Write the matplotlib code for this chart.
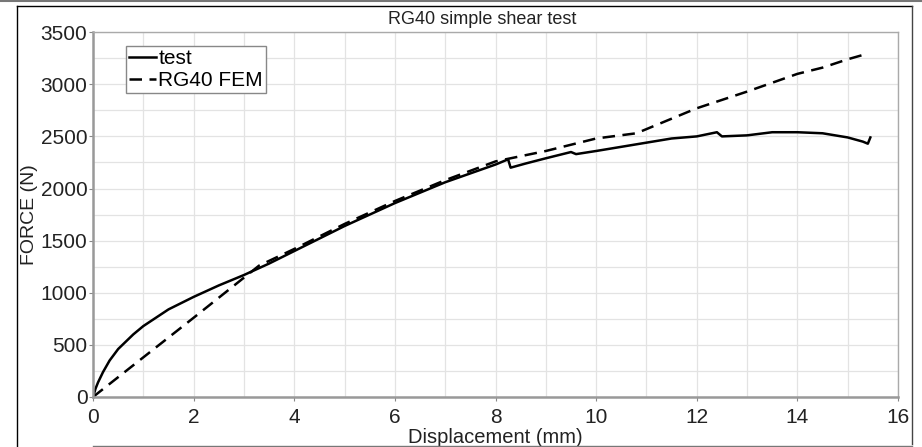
import matplotlib
matplotlib.use("Agg")
from matplotlib import pyplot as plt
from matplotlib.lines import Line2D
from matplotlib.ticker import MultipleLocator

plt.rcParams['font.family'] = ['Liberation Sans', 'DejaVu Sans']

test_x = [0, 0.05, 0.1, 0.2, 0.33, 0.5, 0.8, 1.0, 1.5, 2.0, 2.5, 3.0, 3.5, 4.0, 5.0, 6.0, 7.0, 8.0,
          8.25, 8.3, 8.6, 9.0, 9.5, 9.6, 10.0, 10.5, 11.0, 11.5, 12.0, 12.4, 12.5,
          13.0, 13.5, 14.0, 14.5, 15.0, 15.3, 15.4, 15.45]
test_y = [0, 80, 140, 240, 350, 460, 600, 680, 840, 960, 1070, 1170, 1280, 1400, 1640, 1860, 2060, 2230,
          2280, 2200, 2240, 2290, 2350, 2330, 2360, 2400, 2440, 2480, 2500, 2540, 2500,
          2510, 2540, 2540, 2530, 2490, 2450, 2430, 2490]

fem_x = [0, 1.0, 2.0, 3.3, 4.0, 5.0, 6.0, 7.0, 8.0, 9.0, 9.5, 10.0, 10.8, 11.0,
         12.0, 13.0, 14.0, 14.5, 15.0, 15.4]
fem_y = [0, 380, 760, 1260, 1420, 1660, 1880, 2080, 2260, 2360, 2420, 2480, 2530, 2570,
         2770, 2930, 3100, 3160, 3240, 3295]

fig = plt.figure(figsize=(9.22, 4.47), dpi=100)
ax = fig.add_axes([0.1009, 0.112, 0.8731, 0.816])

ax.plot(test_x, test_y, color='black', lw=1.8, label='test')
ax.plot(fem_x, fem_y, color='black', lw=1.8, ls=(0, (5, 3)), label='RG40 FEM')

ax.set_xlim(0, 16)
ax.set_ylim(0, 3500)
ax.xaxis.set_major_locator(MultipleLocator(2))
ax.xaxis.set_minor_locator(MultipleLocator(1))
ax.yaxis.set_major_locator(MultipleLocator(500))
ax.yaxis.set_minor_locator(MultipleLocator(250))
ax.grid(True, which='both', color='#e3e3e3', lw=0.9)
ax.set_axisbelow(True)
ax.tick_params(which='major', length=3, color='#888888', labelsize=15, pad=1,
               labelcolor='#222222')
ax.tick_params(axis='x', which='major', pad=5)
ax.tick_params(which='minor', length=0)
for side in ['left', 'bottom']:
    ax.spines[side].set_color('#999999')
    ax.spines[side].set_linewidth(1.8)
for side in ['top', 'right']:
    ax.spines[side].set_color('#aaaaaa')
    ax.spines[side].set_linewidth(1.0)

ax.set_title('RG40 simple shear test', fontsize=13, x=0.4835, pad=6, color='#222222')
ax.set_xlabel('Displacement (mm)', fontsize=14.5, labelpad=1, color='#222222')
ax.set_ylabel('FORCE (N)', fontsize=14, labelpad=2, color='#222222')

leg = ax.legend(loc='upper left', bbox_to_anchor=(0.041, 0.962), borderaxespad=0,
                fontsize=15, handlelength=1.3, handletextpad=0.1, borderpad=0.15,
                labelspacing=0.15, fancybox=False, framealpha=1)
leg.get_frame().set_edgecolor('#888888')
leg.get_frame().set_linewidth(1.0)

# outer frame of the picture
W, H = 922, 447
fig.add_artist(Line2D([0, 1], [1 - 0.5 / H, 1 - 0.5 / H], color='#777777', lw=1.5))
fig.add_artist(Line2D([17 / W, 912 / W], [1 - 6 / H, 1 - 6 / H], color='black', lw=1.0))
fig.add_artist(Line2D([17 / W, 17 / W], [0, 1 - 6 / H], color='black', lw=1.0))
fig.add_artist(Line2D([912 / W, 912 / W], [3 / H, 1 - 6 / H], color='#444444', lw=1.0))
fig.add_artist(Line2D([93 / W, 912 / W], [1.5 / H, 1.5 / H], color='#777777', lw=1.0))

plt.savefig('out.png', dpi=100)
